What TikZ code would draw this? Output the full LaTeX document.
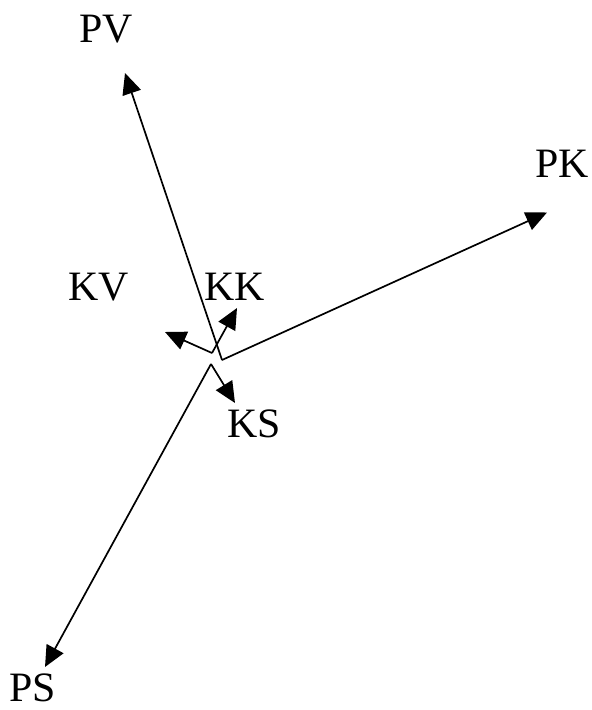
\documentclass[tikz,border=0pt]{standalone}
\usepackage{fontspec}
\setmainfont{Liberation Serif}
\usetikzlibrary{arrows.meta}
\begin{document}
\begin{tikzpicture}[x=1bp,y=-1bp,
  vec/.style={line width=1.7bp,-{Triangle[length=21bp,width=19bp]}},
  lbl/.style={inner sep=0pt,font=\fontsize{42}{50}\selectfont}]
\useasboundingbox (0,0) rectangle (592,710);
% origins
\coordinate (oP) at (222,360);
\coordinate (oS) at (211,364);
\coordinate (oK) at (212,353);
% tips
\coordinate (tPV) at (125,73);
\coordinate (tPK) at (547,212.5);
\coordinate (tPS) at (45,667);
\coordinate (tKS) at (235,403);
\coordinate (tKV) at (165,332);
\coordinate (tKK) at (237,308);
% labels
\node[lbl] (PV) at (106,29) {PV};
\node[lbl] (PK) at (562,164) {PK};
\node[lbl] (KV) at (99,287) {KV};
\node[lbl] (KK) at (235,287) {KK};
\node[lbl] (KS) at (254,423.5) {KS};
\node[lbl] (PS) at (33,688) {PS};
% vectors
\draw[vec] (oP) -- (tPV);
\draw[vec] (oP) -- (tPK);
\draw[vec] (oS) -- (tPS);
\draw[vec] (oS) -- (tKS);
\draw[vec] (oK) -- (tKV);
\draw[vec] (oK) -- (tKK);
\end{tikzpicture}
\end{document}
